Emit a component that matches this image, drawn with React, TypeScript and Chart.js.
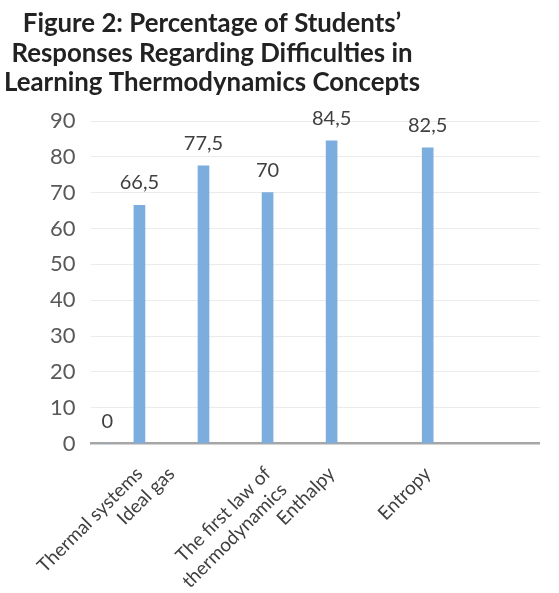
import { useEffect, useRef } from "react";
import { Chart, registerables } from "chart.js";

Chart.register(...registerables);

// ---- data ----
const titleLines = [
  "Figure 2: Percentage of Students’",
  "Responses Regarding Difficulties in",
  "Learning Thermodynamics Concepts",
];
const categories: (string | string[])[] = [
  "Thermal systems",
  "Ideal gas",
  ["The first law of", "thermodynamics"],
  "Enthalpy",
  "Entropy",
];
const values = [0, 66.5, 77.5, 70, 84.5, 82.5];
const yTicks = [0, 10, 20, 30, 40, 50, 60, 70, 80, 90];

// ---- layout (slot positions on the category axis) ----
const slotCount = 14;
const barSlots = [0, 1, 3, 5, 7, 10];
const labelSlots = [1, 2, 5, 7, 10];

export default function App() {
  const ref = useRef<HTMLCanvasElement | null>(null);

  useEffect(() => {
    document.body.style.margin = "0";
    const canvas = ref.current;
    if (!canvas) return;

    const labels: (string | string[])[] = Array(slotCount).fill("");
    labelSlots.forEach((s, i) => (labels[s] = categories[i]));
    const data: (number | null)[] = Array(slotCount).fill(null);
    barSlots.forEach((s, i) => (data[s] = values[i]));

    const titlePlugin = {
      id: "customTitle",
      afterDraw(chart: any) {
        const ctx = chart.ctx;
        ctx.save();
        ctx.font = "bold 25.8px Lato";
        ctx.fillStyle = "#222222";
        ctx.textAlign = "center";
        ctx.textBaseline = "alphabetic";
        titleLines.forEach((line, i) => ctx.fillText(line, 212, 32 + i * 29.5));
        ctx.restore();
      },
    };

    const valueLabels = {
      id: "valueLabels",
      afterDatasetsDraw(chart: any) {
        const ctx = chart.ctx;
        const meta = chart.getDatasetMeta(0);
        ctx.save();
        ctx.font = "20px Lato";
        ctx.fillStyle = "#404040";
        ctx.textAlign = "center";
        ctx.textBaseline = "alphabetic";
        meta.data.forEach((bar: any, i: number) => {
          const v = data[i];
          if (v === null || v === undefined) return;
          ctx.fillText(String(v).replace(".", ","), bar.x, bar.y - 16);
        });
        ctx.restore();
      },
    };

    const chart = new Chart(canvas, {
      type: "bar",
      data: {
        labels,
        datasets: [
          {
            data,
            backgroundColor: "#7badde",
            barThickness: 11,
          },
        ],
      },
      options: {
        responsive: false,
        animation: false,
        devicePixelRatio: 1,
        layout: { padding: { top: 121, right: 3, left: 0, bottom: 0 } },
        plugins: {
          legend: { display: false },
          tooltip: { enabled: false },
          title: { display: false },
        },
        scales: {
          x: {
            grid: { display: false, drawTicks: false },
            border: { display: true, color: "#a6a6a6", width: 2.5 },
            ticks: {
              autoSkip: false,
              minRotation: 45,
              maxRotation: 45,
              color: "#404040",
              font: { family: "Lato", size: 19 },
              padding: 19,
            },
            afterFit: (s: any) => {
              s.height = 149.5;
            },
          },
          y: {
            min: 0,
            max: 90,
            afterBuildTicks: (s: any) => {
              s.ticks = yTicks.map((v) => ({ value: v }));
            },
            ticks: {
              color: "#595959",
              font: { family: "Lato", size: 22 },
              padding: 16,
            },
            grid: { color: "#ebebeb", drawTicks: false },
            border: { display: false },
            afterFit: (s: any) => {
              s.width = 91.4;
            },
          },
        },
      },
      plugins: [titlePlugin, valueLabels],
    });

    return () => chart.destroy();
  }, []);

  return <canvas ref={ref} width={559} height={593} style={{ display: "block" }} />;
}
